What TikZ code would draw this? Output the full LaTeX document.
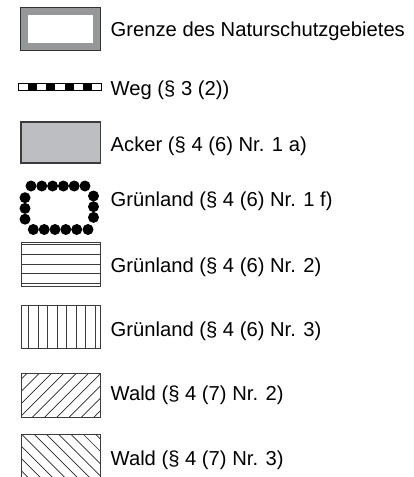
\documentclass[tikz,border=0pt]{standalone}
\usepackage{fontspec}
\setmainfont{Liberation Sans}
\definecolor{grenzgray}{RGB}{150,151,153}
\definecolor{ackergray}{RGB}{188,190,193}
\definecolor{linegray}{RGB}{60,60,60}
\begin{document}
\begin{tikzpicture}[x=1pt,y=-1pt,
  lbl/.style={anchor=base west,inner sep=0pt,font=\fontsize{20.2}{24}\selectfont},
  boxline/.style={draw=linegray,line width=1pt},
  hatch/.style={draw=black!85,line width=0.7pt},
  dot/.style={circle,fill=black,inner sep=0pt,minimum size=11pt}]
\useasboundingbox (0,0) rectangle (414,477);
% Grenze
\filldraw[fill=grenzgray,draw=black!80,line width=0.8pt] (20,7.5) rectangle (100.5,50.5);
\fill[white] (28,15) rectangle (92.5,43);
\node[lbl] (t1) at (110.5,36.7) {Grenze des Naturschutzgebietes};
% Weg
\draw[black,line width=0.8pt] (18.3,83.3) rectangle (101.5,90.7);
\foreach \i in {1,3,5,7} {
  \fill[black] ({18.3+9.25*\i},83.3) rectangle ({18.3+9.25*(\i+1)},90.7);
}
\node[lbl] (t2) at (110.5,95) {Weg (§ 3 (2))};
% Acker
\filldraw[fill=ackergray,draw=linegray,line width=1.3pt] (21,122) rectangle (100.5,163);
\node[lbl] (t3) at (110.5,151.7) {Acker (§ 4 (6) Nr. 1 a)};
% Gruenland dots
\foreach \x in {31,41.8,52.6,63.4,74.2,85} \node[dot] at (\x,186) {};
\foreach \y in {197.7,208.4,219.2} \node[dot] at (25,\y) {};
\foreach \x in {33.3,44.2,55,65.8,76.7,88} \node[dot] at (\x,229.5) {};
\foreach \y in {196,206.7,217.4} \node[dot] at (93.5,\y) {};
\node[lbl] (t4) at (110.5,206.7) {Grünland (§ 4 (6) Nr. 1 f)};
% Gruenland horizontal
\draw[boxline] (21,242) rectangle (100.5,286.3);
\foreach \y in {244.7,254.7,264.2,273.7,283.2} \draw[hatch,draw=linegray] (21,\y) -- (100.5,\y);
\node[lbl] (t5) at (110.5,272.3) {Grünland (§ 4 (6) Nr. 2)};
% Gruenland vertical
\draw[boxline] (21,305.5) rectangle (100.5,348.5);
\foreach \x in {28.3,38.1,47.7,57.3,66.8,76.3,85.8,95.2} \draw[hatch,draw=linegray] (\x,305.5) -- (\x,348.5);
\node[lbl] (t6) at (110.5,336.7) {Grünland (§ 4 (6) Nr. 3)};
% Wald NE
\begin{scope}
\clip (21,373) rectangle (100.5,417);
\foreach \k in {-1,...,10} \draw[hatch] ({15+12.3*\k},373) -- ({15+12.3*\k-50},423);
\end{scope}
\draw[boxline] (21,373) rectangle (100.5,417);
\node[lbl] (t7) at (110.5,400.7) {Wald (§ 4 (7) Nr. 2)};
% Wald NW
\begin{scope}
\clip (21,434.5) rectangle (100.5,478);
\foreach \k in {-6,...,8} \draw[hatch] ({22+12.3*\k},434.5) -- ({22+12.3*\k+50},484.5);
\end{scope}
\draw[boxline] (21,434.5) rectangle (100.5,478);
\node[lbl] (t8) at (110.5,465) {Wald (§ 4 (7) Nr. 3)};
\end{tikzpicture}
\end{document}
